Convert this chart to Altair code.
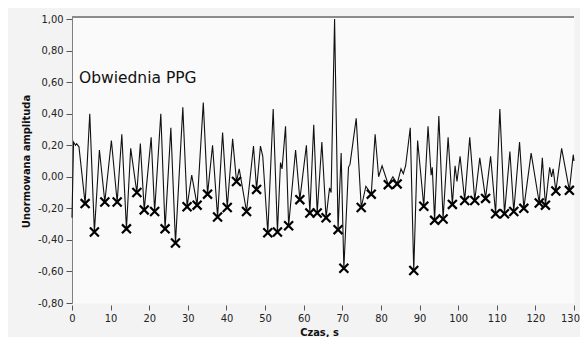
import altair as alt
import pandas as pd

# Signal vertices (time in s, normalised amplitude)
sig_t = [0.0, 0.4, 0.9, 1.2, 1.8, 3.4, 4.6, 5.8, 7.1, 8.5, 10.2, 11.7, 12.9, 14.1, 15.2, 16.8,
         17.7, 18.7, 20.5, 21.4, 23.0, 24.1, 25.6, 26.8, 28.7, 29.8, 31.0, 32.4, 34.0, 35.1,
         36.4, 37.7, 39.0, 40.2, 41.6, 42.6, 43.3, 45.2, 47.0, 47.8, 48.8, 49.4, 50.7, 52.1,
         53.2, 54.0, 54.4, 55.3, 56.1, 57.9, 59.0, 60.7, 61.6, 62.6, 63.5, 64.7, 65.8, 66.7,
         67.1, 68.0, 68.9, 69.7, 70.4, 71.6, 72.0, 73.6, 74.9, 76.1, 77.5, 78.5, 79.4, 80.3,
         81.9, 83.1, 84.2, 85.2, 85.8, 86.4, 87.6, 88.5, 89.5, 91.1, 92.2, 93.0, 93.3, 93.9,
         95.0, 96.1, 97.4, 98.5, 99.2, 99.7, 100.5, 101.7, 103.0, 104.3, 105.6, 107.1, 108.4,
         109.7, 110.8, 112.0, 113.4, 114.4, 115.9, 117.0, 118.9, 121.0, 121.8, 122.6, 123.7,
         124.2, 124.6, 125.3, 126.8, 128.8, 129.8, 130.0]
sig_v = [-0.26, 0.22, 0.20, 0.21, 0.19, -0.17, 0.40, -0.35, 0.17, -0.16, 0.23, -0.16, 0.27, -0.33, 0.18, -0.10,
         0.21, -0.21, 0.25, -0.22, 0.40, -0.33, 0.31, -0.42, 0.44, -0.19, 0.01, -0.18, 0.47, -0.11,
         0.20, -0.255, 0.28, -0.195, 0.24, -0.03, 0.05, -0.22, 0.195, -0.08, 0.195, 0.13, -0.355, 0.43,
         -0.35, 0.09, 0.05, 0.32, -0.31, 0.17, -0.145, 0.20, -0.23, 0.33, -0.23, 0.22, -0.26, -0.07,
         -0.10, 1.00, -0.335, 0.15, -0.58, 0.06, 0.08, 0.37, -0.195, -0.06, -0.11, 0.27, 0.0, 0.07,
         -0.05, 0.0, -0.045, 0.05, 0.02, 0.07, 0.31, -0.594, 0.23, -0.187, 0.32, 0.01, 0.06, -0.276,
         0.385, -0.268, 0.25, -0.175, 0.07, -0.03, 0.13, -0.15, 0.25, -0.15, 0.12, -0.137, 0.13,
         -0.234, 0.43, -0.234, 0.16, -0.22, 0.22, -0.20, 0.15, -0.166, 0.12, -0.18, 0.06,
         0.0, 0.05, -0.09, 0.18, -0.086, 0.14, 0.10]

# Detected minima (markers)
mk_t = [3.4, 5.8, 8.5, 11.7, 14.1, 16.8, 18.7, 21.4, 24.1, 26.8, 29.8, 32.4, 35.1, 37.7, 40.2,
        42.6, 45.2, 47.8, 50.7, 53.2, 56.1, 59.0, 61.6, 63.5, 65.8, 68.9, 70.4, 74.9, 77.5, 81.9,
        84.2, 88.5, 91.1, 93.9, 96.1, 98.5, 101.7, 104.3, 107.1, 109.7, 112.0, 114.4, 117.0,
        121.0, 122.6, 125.3, 128.8]
mk_v = [-0.17, -0.35, -0.16, -0.16, -0.33, -0.10, -0.21, -0.22, -0.33, -0.42, -0.19, -0.18, -0.11, -0.255, -0.195,
        -0.03, -0.22, -0.08, -0.355, -0.35, -0.31, -0.145, -0.23, -0.23, -0.26, -0.335, -0.58, -0.195, -0.11, -0.05,
        -0.045, -0.594, -0.187, -0.276, -0.268, -0.175, -0.15, -0.15, -0.137, -0.234, -0.234, -0.22, -0.20,
        -0.166, -0.18, -0.09, -0.086]

x_ticks = list(range(0, 131, 10))
y_ticks = [-0.8, -0.6, -0.4, -0.2, 0.0, 0.2, 0.4, 0.6, 0.8, 1.0]
annotation = "Obwiednia PPG"

sig = pd.DataFrame({"t": sig_t, "v": sig_v})
mk = pd.DataFrame({"t": mk_t, "v": mk_v})

FONT = "DejaVu Sans Condensed, DejaVu Sans"

xs = alt.Scale(domain=[0, 130], nice=False, zero=False)
ys = alt.Scale(domain=[-0.8, 1.0127], nice=False, zero=False)

x_axis = alt.Axis(
    values=x_ticks, title="Czas, s", grid=False, domain=False, offset=2,
    tickSize=5, labelPadding=2, labelOverlap=False, labelFlush=False,
    labelOffset={"condition": {"test": "datum.value >= 130", "value": -4}, "value": 0},
    titleX=247, titleY=27, titleBaseline="middle", titleAlign="center")
y_axis = alt.Axis(
    values=y_ticks, title="Unormowana amplituda", grid=False, domain=True,
    tickSize=6, labelPadding=3, labelOverlap=False, labelFlush=False,
    labelExpr="replace(replace(format(datum.value, '.2f'), '.', ','), '\u2212', '-')",
    titleX=-46, titleY=144, titleBaseline="middle", titleAlign="center")

x_enc = alt.X("t:Q", scale=xs, axis=x_axis)
y_enc = alt.Y("v:Q", scale=ys, axis=y_axis)

line = alt.Chart(sig).mark_line(color="#111", strokeWidth=1.1).encode(x=x_enc, y=y_enc)

pts = alt.Chart(mk).mark_point(
    shape="M-1,-1L1,1M-1,1L1,-1", size=80, strokeWidth=2.2, color="#000",
    filled=False, opacity=1
).encode(x=x_enc, y=y_enc)

top_rule = alt.Chart(sig).mark_rule(color="#8a8a8a", strokeWidth=1).encode(y=alt.value(0))

label = alt.Chart(pd.DataFrame({"txt": [annotation]})).mark_text(
    align="left", baseline="middle", font="DejaVu Sans", fontSize=15.5, color="#111"
).encode(
    x=alt.XDatum(1.8, scale=xs, axis=x_axis),
    y=alt.YDatum(0.628, scale=ys, axis=y_axis),
    text="txt:N")

chart = alt.layer(top_rule, line, pts, label).properties(
    width=502, height=286,
    autosize=alt.AutoSizeParams(type="none"),
    padding={"left": 64, "top": 9, "right": 6, "bottom": 34},
    background="#f3f3f3",
).configure_view(
    fill="#fafafa", stroke="transparent"
).configure_axis(
    labelFont=FONT, labelFontSize=11, labelColor="#222",
    titleFont=FONT, titleFontSize=11, titleFontWeight="bold", titleColor="#111",
    domainColor="#808080", tickColor="#555"
)

chart.save("out.html", embed_options={"renderer": "svg", "actions": False})
